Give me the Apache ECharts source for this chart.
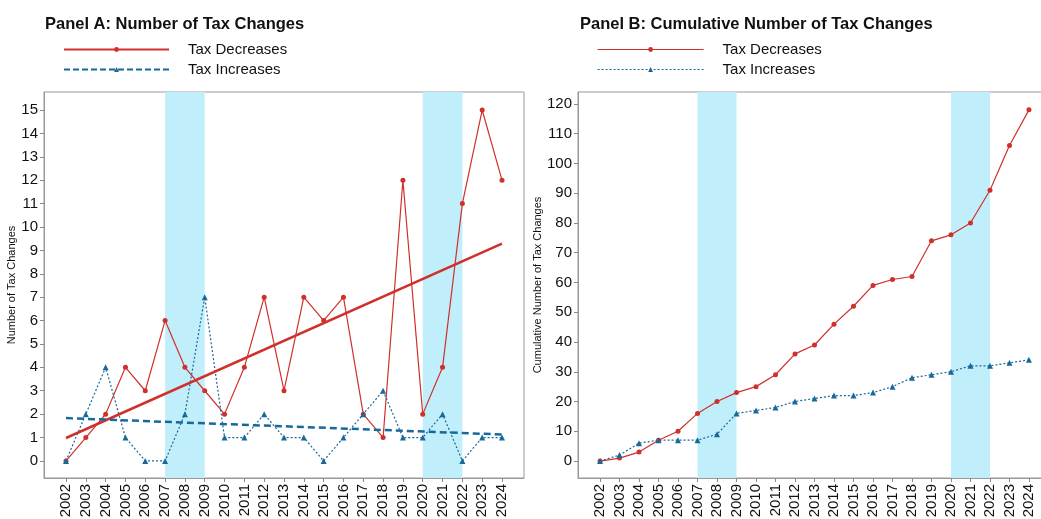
<!DOCTYPE html>
<html>
<head>
<meta charset="utf-8">
<script src="https://cdn.jsdelivr.net/npm/echarts@6/dist/echarts.min.js"></script>
<style>
  html, body { margin: 0; padding: 0; background: #fff; }
  #chart { width: 1041px; height: 519px; }
</style>
</head>
<body>
<div id="chart"></div>
<script>
// data
var years = [2002, 2003, 2004, 2005, 2006, 2007, 2008, 2009, 2010, 2011, 2012, 2013,
  2014, 2015, 2016, 2017, 2018, 2019, 2020, 2021, 2022, 2023, 2024]
var decreases = [0, 1, 2, 4, 3, 6, 4, 3, 2, 4, 7, 3, 7, 6, 7, 2, 1, 12, 2, 4, 11, 15, 12]
var increases = [0, 2, 4, 1, 0, 0, 2, 7, 1, 1, 2, 1, 1, 0, 1, 2, 3, 1, 1, 2, 0, 1, 1]
var cumDecreases = [0, 1, 3, 7, 10, 16, 20, 23, 25, 29, 36, 39, 46, 52, 59, 61, 62, 74, 76, 80, 91, 106, 118]
var cumIncreases = [0, 2, 6, 7, 7, 7, 9, 16, 17, 18, 20, 21, 22, 22, 23, 25, 28, 29, 30, 32, 32, 33, 34]
// trend line end points (2002, 2024)
var trendDecreases = [0.98, 9.29]
var trendIncreases = [1.83, 1.13]
// shaded periods
var shaded = [[2007, 2009], [2020, 2022]]
var ticksA = [0, 1, 2, 3, 4, 5, 6, 7, 8, 9, 10, 11, 12, 13, 14, 15]
var ticksB = [0, 10, 20, 30, 40, 50, 60, 70, 80, 90, 100, 110, 120]

var RED = '#d0302c'
var BLUE = '#17699a'
var FONT = '"Liberation Sans", Arial, sans-serif'

function pairs(xs, ys) {
  return xs.map(function(x, i) { return [x, ys[i]] })
}

function xAxisFor(gridIndex, min, max) {
  return {
    type: 'value',
    gridIndex: gridIndex,
    min: min,
    max: max,
    axisLine: { show: true, onZero: false, lineStyle: { color: '#999' } },
    splitLine: { show: false },
    axisTick: { show: true, length: 4, lineStyle: { color: '#888' }, customValues: years },
    axisLabel: {
      rotate: 90, margin: 6, fontSize: 15, color: '#111', fontFamily: FONT,
      customValues: years,
      formatter: function(v) { return String(v) }
    }
  }
}

function yAxisFor(gridIndex, min, max, ticks, name, gap) {
  return {
    type: 'value',
    gridIndex: gridIndex,
    min: min,
    max: max,
    name: name,
    nameLocation: 'middle',
    nameRotate: 90,
    nameGap: gap,
    nameTextStyle: { fontSize: 11, color: '#111', fontFamily: FONT },
    axisLine: { show: true, onZero: false, lineStyle: { color: '#999' } },
    splitLine: { show: false },
    axisTick: { show: true, length: 4, lineStyle: { color: '#888' }, customValues: ticks },
    axisLabel: { margin: 6, fontSize: 15, color: '#111', fontFamily: FONT, customValues: ticks }
  }
}

function shadeSeries(idx) {
  return {
    name: 'shade' + idx,
    type: 'line',
    xAxisIndex: idx,
    yAxisIndex: idx,
    data: [],
    z: 1,
    silent: true,
    markArea: {
      silent: true,
      itemStyle: { color: '#c1eefb', opacity: 1 },
      data: shaded.map(function(s) { return [{ xAxis: s[0] }, { xAxis: s[1] }] })
    }
  }
}

var chart = echarts.init(document.getElementById('chart'))

var option = {
  animation: false,
  textStyle: { fontFamily: FONT },
  title: [
    { text: 'Panel A: Number of Tax Changes', left: 45, top: 16, padding: 0,
      textStyle: { fontSize: 16.5, fontWeight: 'bold', color: '#111', fontFamily: FONT } },
    { text: 'Panel B: Cumulative Number of Tax Changes', left: 580, top: 16, padding: 0,
      textStyle: { fontSize: 16.5, fontWeight: 'bold', color: '#111', fontFamily: FONT } }
  ],
  legend: [
    {
      orient: 'vertical', left: 63, top: 42, padding: 0, itemWidth: 105, itemHeight: 6, itemGap: 5,
      textStyle: { fontSize: 15, color: '#111', padding: [0, 0, 0, 14] },
      data: [
        { name: 'Tax Decreases', lineStyle: { width: 2, type: 'solid' } },
        { name: 'Tax Increases', lineStyle: { width: 2, type: [6, 3] } }
      ]
    },
    {
      orient: 'vertical', left: 597, top: 42, padding: 0, itemWidth: 106, itemHeight: 6, itemGap: 5,
      textStyle: { fontSize: 15, color: '#111', padding: [0, 0, 0, 14] },
      data: [
        { name: 'Tax Decreases ', lineStyle: { width: 1.2, type: 'solid' } },
        { name: 'Tax Increases ', lineStyle: { width: 1.2, type: [2, 2] } }
      ]
    }
  ],
  grid: [
    { left: 44, top: 92, width: 480, height: 386, show: true, borderColor: '#999', borderWidth: 1,
      outerBoundsMode: 'none' },
    { left: 578, top: 92, width: 473, height: 386, show: true, borderColor: '#999', borderWidth: 1,
      outerBoundsMode: 'none' }
  ],
  xAxis: [
    xAxisFor(0, 2000.89, 2025.11),
    xAxisFor(1, 2000.87, 2025.13)
  ],
  yAxis: [
    yAxisFor(0, -0.73, 15.77, ticksA, 'Number of Tax Changes', 26),
    yAxisFor(1, -5.7, 124, ticksB, 'Cumulative Number of Tax Changes', 34)
  ],
  series: [
    shadeSeries(0),
    shadeSeries(1),
    {
      name: 'Tax Decreases', type: 'line', xAxisIndex: 0, yAxisIndex: 0, z: 3,
      data: pairs(years, decreases),
      symbol: 'circle', symbolSize: 5,
      lineStyle: { color: RED, width: 1.2 }, itemStyle: { color: RED }
    },
    {
      name: 'Tax Increases', type: 'line', xAxisIndex: 0, yAxisIndex: 0, z: 3,
      data: pairs(years, increases),
      symbol: 'triangle', symbolSize: 6,
      lineStyle: { color: BLUE, width: 1.2, type: [2, 2] }, itemStyle: { color: BLUE }
    },
    {
      name: 'Trend Decreases', type: 'line', xAxisIndex: 0, yAxisIndex: 0, z: 4,
      data: [[years[0], trendDecreases[0]], [years[years.length - 1], trendDecreases[1]]],
      symbol: 'none', lineStyle: { color: RED, width: 2.5 }
    },
    {
      name: 'Trend Increases', type: 'line', xAxisIndex: 0, yAxisIndex: 0, z: 4,
      data: [[years[0], trendIncreases[0]], [years[years.length - 1], trendIncreases[1]]],
      symbol: 'none', lineStyle: { color: BLUE, width: 2.5, type: [7, 4] }
    },
    {
      name: 'Tax Decreases ', type: 'line', xAxisIndex: 1, yAxisIndex: 1, z: 3,
      data: pairs(years, cumDecreases),
      symbol: 'circle', symbolSize: 5,
      lineStyle: { color: RED, width: 1.2 }, itemStyle: { color: RED }
    },
    {
      name: 'Tax Increases ', type: 'line', xAxisIndex: 1, yAxisIndex: 1, z: 3,
      data: pairs(years, cumIncreases),
      symbol: 'triangle', symbolSize: 6,
      lineStyle: { color: BLUE, width: 1.2, type: [2, 2] }, itemStyle: { color: BLUE }
    }
  ]
}

chart.setOption(option)
window.addEventListener('resize', function() {
  chart.resize()
})
</script>
</body>
</html>
